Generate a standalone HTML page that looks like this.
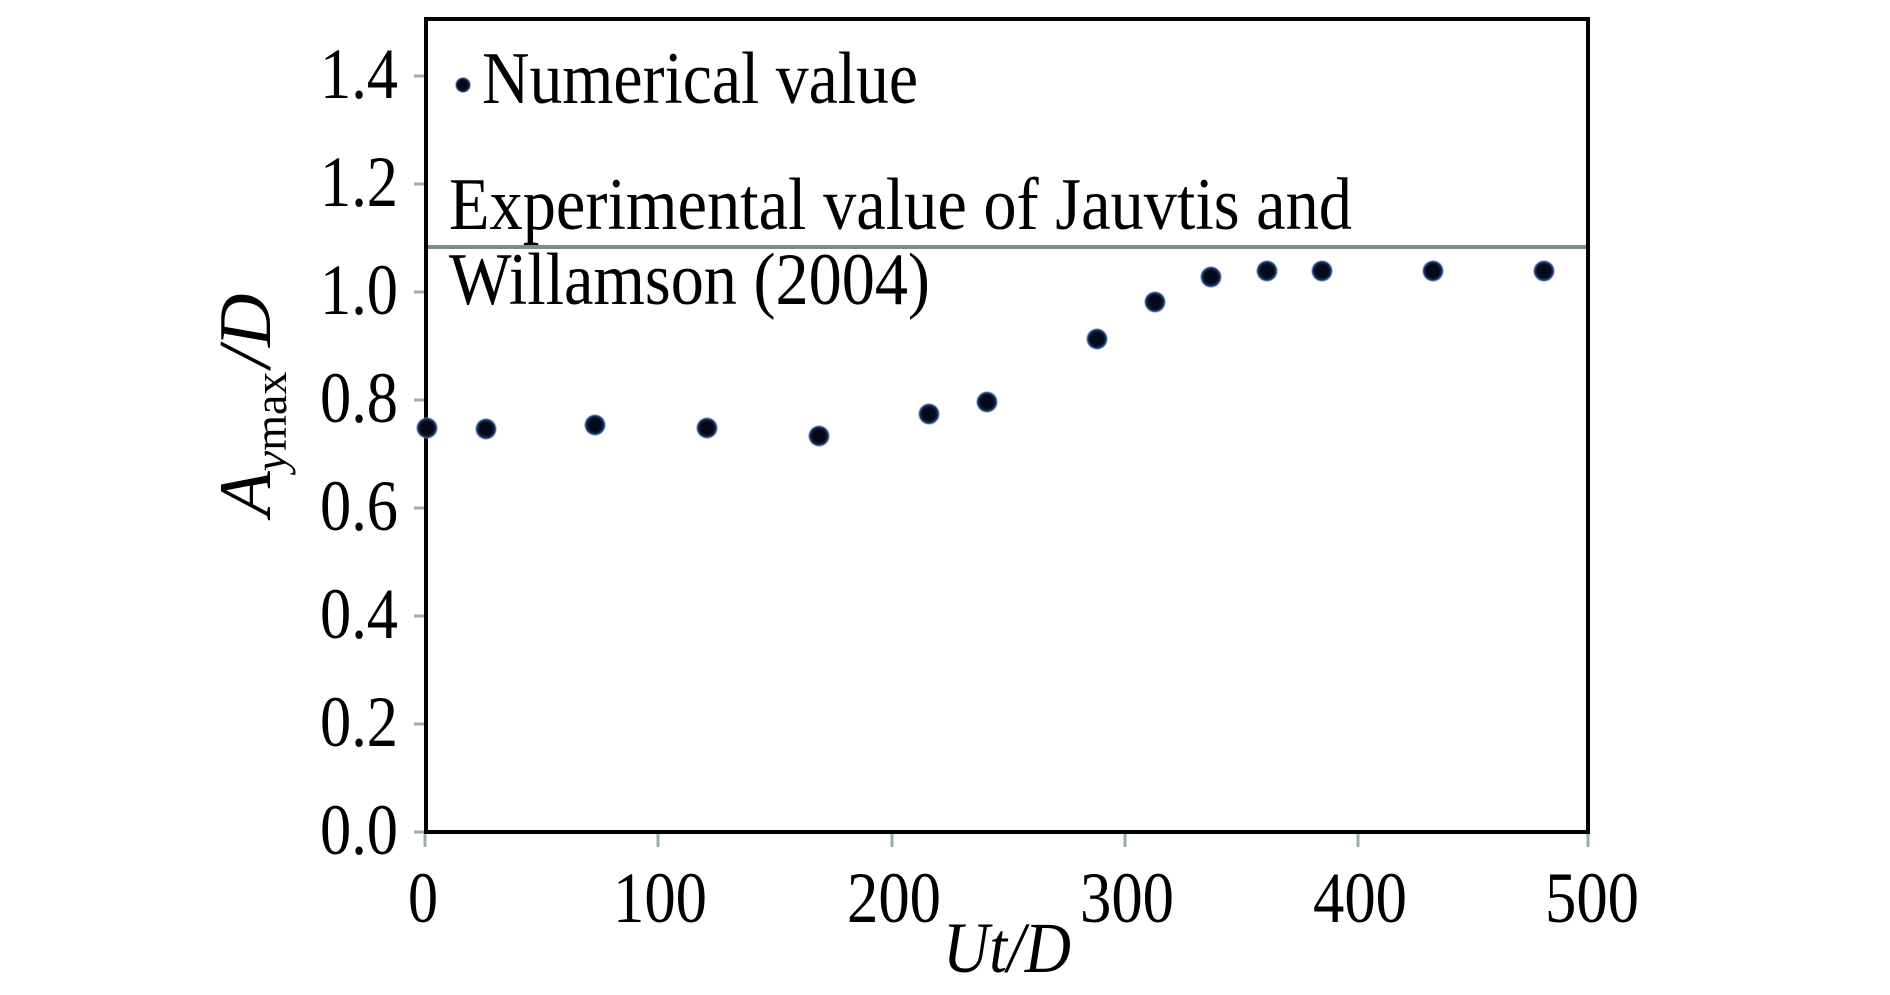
<!DOCTYPE html>
<html><head><meta charset="utf-8"><style>html,body{margin:0;padding:0;background:#fff}svg{display:block}</style></head>
<body>
<svg width="1890" height="995" viewBox="0 0 1890 995" xmlns="http://www.w3.org/2000/svg" font-family="'Liberation Serif', serif" fill="#000">
<defs>
<radialGradient id="g"><stop offset="0.6" stop-color="#050a18"/><stop offset="0.85" stop-color="#1d3f78"/><stop offset="1" stop-color="#8fb0e0" stop-opacity="0.3"/></radialGradient>
</defs>
<g stroke="#9aaeb0" stroke-width="3">
<line x1="414" y1="832" x2="426" y2="832"/><line x1="414" y1="724" x2="426" y2="724"/><line x1="414" y1="616" x2="426" y2="616"/><line x1="414" y1="508" x2="426" y2="508"/><line x1="414" y1="400" x2="426" y2="400"/><line x1="414" y1="292" x2="426" y2="292"/><line x1="414" y1="184" x2="426" y2="184"/><line x1="414" y1="76" x2="426" y2="76"/>
<line x1="425" y1="833" x2="425" y2="847"/><line x1="658" y1="833" x2="658" y2="847"/><line x1="892" y1="833" x2="892" y2="847"/><line x1="1125" y1="833" x2="1125" y2="847"/><line x1="1358" y1="833" x2="1358" y2="847"/><line x1="1588" y1="833" x2="1588" y2="847"/>
</g>
<line x1="426" y1="247" x2="1588" y2="247" stroke="#7d8c8d" stroke-width="4"/>
<rect x="426" y="19" width="1162" height="813" fill="none" stroke="#000" stroke-width="4"/>
<g font-size="72" text-anchor="end" lengthAdjust="spacingAndGlyphs">
<text x="398" y="854" textLength="78" lengthAdjust="spacingAndGlyphs">0.0</text><text x="398" y="746" textLength="78" lengthAdjust="spacingAndGlyphs">0.2</text><text x="398" y="638" textLength="78" lengthAdjust="spacingAndGlyphs">0.4</text><text x="398" y="530" textLength="78" lengthAdjust="spacingAndGlyphs">0.6</text><text x="398" y="422" textLength="78" lengthAdjust="spacingAndGlyphs">0.8</text><text x="398" y="314" textLength="78" lengthAdjust="spacingAndGlyphs">1.0</text><text x="398" y="206" textLength="78" lengthAdjust="spacingAndGlyphs">1.2</text><text x="398" y="98" textLength="78" lengthAdjust="spacingAndGlyphs">1.4</text>
</g>
<g font-size="72" text-anchor="middle">
<text x="423" y="922" textLength="30" lengthAdjust="spacingAndGlyphs">0</text><text x="660" y="922" textLength="94" lengthAdjust="spacingAndGlyphs">100</text><text x="894" y="922" textLength="94" lengthAdjust="spacingAndGlyphs">200</text><text x="1127" y="922" textLength="94" lengthAdjust="spacingAndGlyphs">300</text><text x="1360" y="922" textLength="94" lengthAdjust="spacingAndGlyphs">400</text><text x="1592" y="922" textLength="94" lengthAdjust="spacingAndGlyphs">500</text>
</g>
<text x="1007" y="972" font-size="72" font-style="italic" text-anchor="middle" textLength="128" lengthAdjust="spacingAndGlyphs">Ut/D</text>
<text transform="translate(270,405) rotate(-90)" font-size="74" text-anchor="middle"><tspan font-style="italic">A</tspan><tspan font-size="46" dy="16" font-style="italic">y</tspan><tspan font-size="46">max</tspan><tspan dy="-16" dx="4" font-style="italic">/D</tspan></text>
<circle cx="463" cy="85" r="8" fill="url(#g)"/>
<text x="482" y="103" font-size="74" textLength="436" lengthAdjust="spacingAndGlyphs">Numerical value</text>
<text x="449" y="229" font-size="74" textLength="903" lengthAdjust="spacingAndGlyphs">Experimental value of Jauvtis and</text>
<text x="449" y="304" font-size="74" textLength="481" lengthAdjust="spacingAndGlyphs">Willamson (2004)</text>
<g fill="url(#g)">
<circle cx="427" cy="428" r="11"/>
<circle cx="486" cy="429" r="11"/>
<circle cx="595" cy="425" r="11"/>
<circle cx="707" cy="428" r="11"/>
<circle cx="819" cy="436" r="11"/>
<circle cx="929" cy="414" r="11"/>
<circle cx="987" cy="402" r="11"/>
<circle cx="1097" cy="339" r="11"/>
<circle cx="1155" cy="302" r="11"/>
<circle cx="1211" cy="277" r="11"/>
<circle cx="1267" cy="271" r="11"/>
<circle cx="1322" cy="271" r="11"/>
<circle cx="1433" cy="271" r="11"/>
<circle cx="1544" cy="271" r="11"/>
</g>
</svg>
</body></html>
